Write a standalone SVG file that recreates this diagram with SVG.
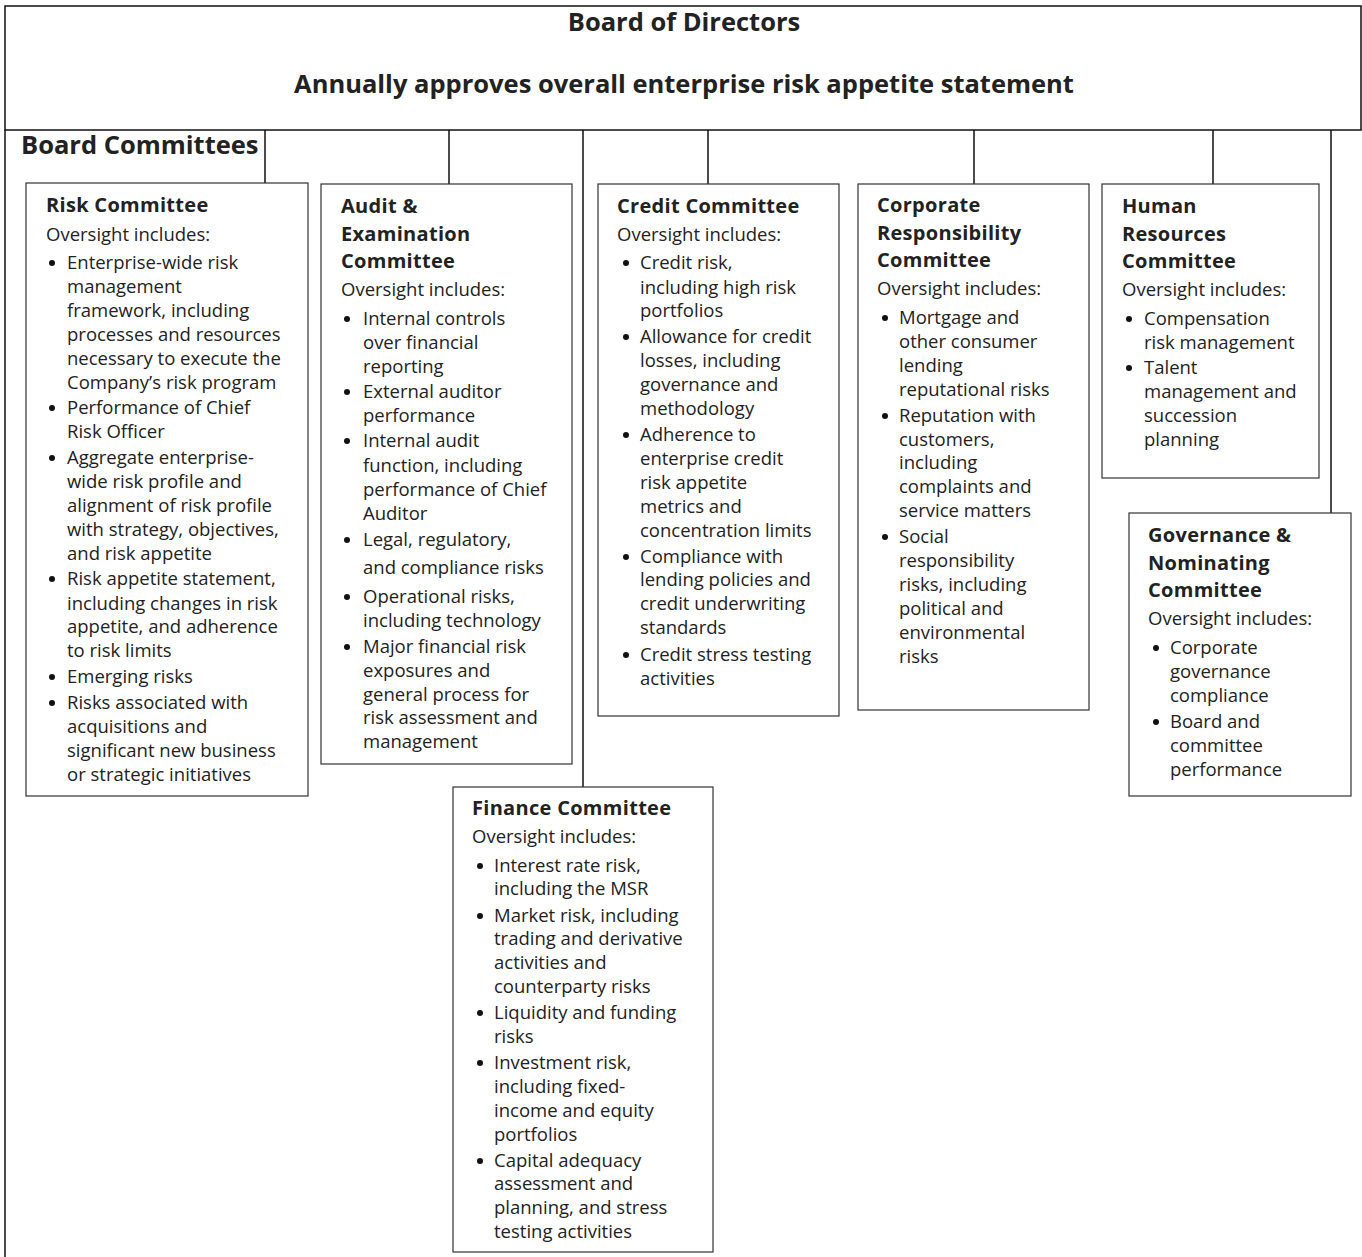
<svg xmlns="http://www.w3.org/2000/svg" width="1362" height="1257" viewBox="0 0 1362 1257">
<style>
.box{fill:#fff;stroke:#333;stroke-width:1.2}
.ln{stroke:#111;stroke-width:1.5;fill:none}
.hd{font-family:"Open Sans","Liberation Sans",sans-serif;font-weight:bold;font-size:25.5px;fill:#222}
.t{font-family:"Open Sans","Liberation Sans",sans-serif;font-weight:bold;font-size:20px;letter-spacing:0.3px;fill:#222}
.b{font-family:"Open Sans","Liberation Sans",sans-serif;font-size:18.5px;fill:#222}
.d{fill:#111}
</style>
<rect width="1362" height="1257" fill="#fff"/>
<g id="board">
<rect x="5" y="6" width="1356" height="124" fill="none" stroke="#111" stroke-width="1.5"/>
<text class="hd" x="684" y="31" text-anchor="middle">Board of Directors</text>
<text class="hd" x="684" y="93" text-anchor="middle">Annually approves overall enterprise risk appetite statement</text>
</g>
<g id="board-committees">
<text class="hd" x="21" y="154">Board Committees</text>
</g>
<g id="connectors">
<line class="ln" x1="5" y1="130" x2="5" y2="1257"/>
<line class="ln" x1="265" y1="130" x2="265" y2="183"/>
<line class="ln" x1="449" y1="130" x2="449" y2="184"/>
<line class="ln" x1="583" y1="130" x2="583" y2="787"/>
<line class="ln" x1="708" y1="130" x2="708" y2="184"/>
<line class="ln" x1="974" y1="130" x2="974" y2="190"/>
<line class="ln" x1="1213" y1="130" x2="1213" y2="184"/>
<line class="ln" x1="1331" y1="130" x2="1331" y2="513"/>
</g>
<g id="risk-committee">
<rect class="box" x="26" y="183" width="282" height="613"/>
<text class="t" x="46" y="212">Risk Committee</text>
<text class="b" x="46" y="241">Oversight includes:</text>
<circle class="d" cx="52" cy="263" r="3"/><text class="b" x="67" y="269">Enterprise-wide risk</text>
<text class="b" x="67" y="293">management</text>
<text class="b" x="67" y="317">framework, including</text>
<text class="b" x="67" y="341">processes and resources</text>
<text class="b" x="67" y="365">necessary to execute the</text>
<text class="b" x="67" y="389">Company’s risk program</text>
<circle class="d" cx="52" cy="408" r="3"/><text class="b" x="67" y="414">Performance of Chief</text>
<text class="b" x="67" y="438">Risk Officer</text>
<circle class="d" cx="52" cy="458" r="3"/><text class="b" x="67" y="464">Aggregate enterprise-</text>
<text class="b" x="67" y="488">wide risk profile and</text>
<text class="b" x="67" y="512">alignment of risk profile</text>
<text class="b" x="67" y="536">with strategy, objectives,</text>
<text class="b" x="67" y="560">and risk appetite</text>
<circle class="d" cx="52" cy="579" r="3"/><text class="b" x="67" y="585">Risk appetite statement,</text>
<text class="b" x="67" y="610">including changes in risk</text>
<text class="b" x="67" y="633">appetite, and adherence</text>
<text class="b" x="67" y="657">to risk limits</text>
<circle class="d" cx="52" cy="677" r="3"/><text class="b" x="67" y="683">Emerging risks</text>
<circle class="d" cx="52" cy="703" r="3"/><text class="b" x="67" y="709">Risks associated with</text>
<text class="b" x="67" y="733">acquisitions and</text>
<text class="b" x="67" y="757">significant new business</text>
<text class="b" x="67" y="781">or strategic initiatives</text>
</g>
<g id="audit-committee">
<rect class="box" x="321" y="184" width="251" height="580"/>
<text class="t" x="341" y="213">Audit &amp;</text>
<text class="t" x="341" y="241">Examination</text>
<text class="t" x="341" y="268">Committee</text>
<text class="b" x="341" y="296">Oversight includes:</text>
<circle class="d" cx="347" cy="319" r="3"/><text class="b" x="363" y="325">Internal controls</text>
<text class="b" x="363" y="349">over financial</text>
<text class="b" x="363" y="373">reporting</text>
<circle class="d" cx="347" cy="392" r="3"/><text class="b" x="363" y="398">External auditor</text>
<text class="b" x="363" y="422">performance</text>
<circle class="d" cx="347" cy="441" r="3"/><text class="b" x="363" y="447">Internal audit</text>
<text class="b" x="363" y="472">function, including</text>
<text class="b" x="363" y="496">performance of Chief</text>
<text class="b" x="363" y="520">Auditor</text>
<circle class="d" cx="347" cy="540" r="3"/><text class="b" x="363" y="546">Legal, regulatory,</text>
<text class="b" x="363" y="574">and compliance risks</text>
<circle class="d" cx="347" cy="597" r="3"/><text class="b" x="363" y="603">Operational risks,</text>
<text class="b" x="363" y="627">including technology</text>
<circle class="d" cx="347" cy="647" r="3"/><text class="b" x="363" y="653">Major financial risk</text>
<text class="b" x="363" y="677">exposures and</text>
<text class="b" x="363" y="701">general process for</text>
<text class="b" x="363" y="724">risk assessment and</text>
<text class="b" x="363" y="748">management</text>
</g>
<g id="credit-committee">
<rect class="box" x="598" y="184" width="241" height="532"/>
<text class="t" x="617" y="213">Credit Committee</text>
<text class="b" x="617" y="241">Oversight includes:</text>
<circle class="d" cx="626" cy="263" r="3"/><text class="b" x="640" y="269">Credit risk,</text>
<text class="b" x="640" y="294">including high risk</text>
<text class="b" x="640" y="317">portfolios</text>
<circle class="d" cx="626" cy="337" r="3"/><text class="b" x="640" y="343">Allowance for credit</text>
<text class="b" x="640" y="367">losses, including</text>
<text class="b" x="640" y="391">governance and</text>
<text class="b" x="640" y="415">methodology</text>
<circle class="d" cx="626" cy="435" r="3"/><text class="b" x="640" y="441">Adherence to</text>
<text class="b" x="640" y="465">enterprise credit</text>
<text class="b" x="640" y="489">risk appetite</text>
<text class="b" x="640" y="513">metrics and</text>
<text class="b" x="640" y="537">concentration limits</text>
<circle class="d" cx="626" cy="557" r="3"/><text class="b" x="640" y="563">Compliance with</text>
<text class="b" x="640" y="586">lending policies and</text>
<text class="b" x="640" y="610">credit underwriting</text>
<text class="b" x="640" y="634">standards</text>
<circle class="d" cx="626" cy="655" r="3"/><text class="b" x="640" y="661">Credit stress testing</text>
<text class="b" x="640" y="685">activities</text>
</g>
<g id="corporate-responsibility-committee">
<rect class="box" x="858" y="184" width="231" height="526"/>
<text class="t" x="877" y="212">Corporate</text>
<text class="t" x="877" y="240">Responsibility</text>
<text class="t" x="877" y="267">Committee</text>
<text class="b" x="877" y="295">Oversight includes:</text>
<circle class="d" cx="885" cy="318" r="3"/><text class="b" x="899" y="324">Mortgage and</text>
<text class="b" x="899" y="348">other consumer</text>
<text class="b" x="899" y="372">lending</text>
<text class="b" x="899" y="396">reputational risks</text>
<circle class="d" cx="885" cy="416" r="3"/><text class="b" x="899" y="422">Reputation with</text>
<text class="b" x="899" y="446">customers,</text>
<text class="b" x="899" y="469">including</text>
<text class="b" x="899" y="493">complaints and</text>
<text class="b" x="899" y="517">service matters</text>
<circle class="d" cx="885" cy="537" r="3"/><text class="b" x="899" y="543">Social</text>
<text class="b" x="899" y="567">responsibility</text>
<text class="b" x="899" y="591">risks, including</text>
<text class="b" x="899" y="615">political and</text>
<text class="b" x="899" y="639">environmental</text>
<text class="b" x="899" y="663">risks</text>
</g>
<g id="human-resources-committee">
<rect class="box" x="1102" y="184" width="217" height="294"/>
<text class="t" x="1122" y="213">Human</text>
<text class="t" x="1122" y="241">Resources</text>
<text class="t" x="1122" y="268">Committee</text>
<text class="b" x="1122" y="296">Oversight includes:</text>
<circle class="d" cx="1129" cy="319" r="3"/><text class="b" x="1144" y="325">Compensation</text>
<text class="b" x="1144" y="349">risk management</text>
<circle class="d" cx="1129" cy="368" r="3"/><text class="b" x="1144" y="374">Talent</text>
<text class="b" x="1144" y="398">management and</text>
<text class="b" x="1144" y="422">succession</text>
<text class="b" x="1144" y="446">planning</text>
</g>
<g id="governance-nominating-committee">
<rect class="box" x="1129" y="513" width="222" height="283"/>
<text class="t" x="1148" y="542">Governance &amp;</text>
<text class="t" x="1148" y="570">Nominating</text>
<text class="t" x="1148" y="597">Committee</text>
<text class="b" x="1148" y="625">Oversight includes:</text>
<circle class="d" cx="1156" cy="648" r="3"/><text class="b" x="1170" y="654">Corporate</text>
<text class="b" x="1170" y="678">governance</text>
<text class="b" x="1170" y="702">compliance</text>
<circle class="d" cx="1156" cy="722" r="3"/><text class="b" x="1170" y="728">Board and</text>
<text class="b" x="1170" y="752">committee</text>
<text class="b" x="1170" y="776">performance</text>
</g>
<g id="finance-committee">
<rect class="box" x="453" y="787" width="260" height="465"/>
<text class="t" x="472" y="815">Finance Committee</text>
<text class="b" x="472" y="843">Oversight includes:</text>
<circle class="d" cx="480" cy="866" r="3"/><text class="b" x="494" y="872">Interest rate risk,</text>
<text class="b" x="494" y="895">including the MSR</text>
<circle class="d" cx="480" cy="916" r="3"/><text class="b" x="494" y="922">Market risk, including</text>
<text class="b" x="494" y="945">trading and derivative</text>
<text class="b" x="494" y="969">activities and</text>
<text class="b" x="494" y="993">counterparty risks</text>
<circle class="d" cx="480" cy="1013" r="3"/><text class="b" x="494" y="1019">Liquidity and funding</text>
<text class="b" x="494" y="1043">risks</text>
<circle class="d" cx="480" cy="1063" r="3"/><text class="b" x="494" y="1069">Investment risk,</text>
<text class="b" x="494" y="1093">including fixed-</text>
<text class="b" x="494" y="1117">income and equity</text>
<text class="b" x="494" y="1141">portfolios</text>
<circle class="d" cx="480" cy="1161" r="3"/><text class="b" x="494" y="1167">Capital adequacy</text>
<text class="b" x="494" y="1190">assessment and</text>
<text class="b" x="494" y="1214">planning, and stress</text>
<text class="b" x="494" y="1238">testing activities</text>
</g>
</svg>
